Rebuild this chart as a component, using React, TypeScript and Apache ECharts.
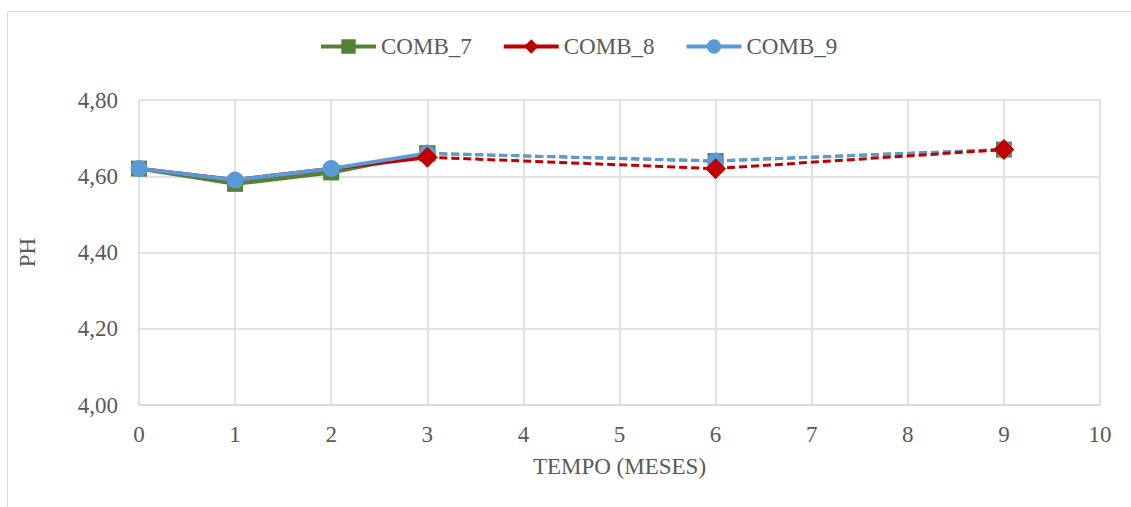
import React, { useEffect, useRef } from "react";
import * as echarts from "echarts";

const months = [0, 1, 2, 3, 6, 9];
const comb7 = [4.62, 4.58, 4.61, 4.66, 4.64, 4.67];
const comb8 = [4.62, 4.59, 4.62, 4.65, 4.62, 4.67];
const comb9 = [4.62, 4.59, 4.62, 4.66, 4.64, 4.67];
const seriesNames = ["COMB_7", "COMB_8", "COMB_9"];
const yTicks = [4.0, 4.2, 4.4, 4.6, 4.8];

const FONT = "'Liberation Serif', 'Times New Roman', serif";
const TXT = "#595959";

export default function App() {
  const ref = useRef<HTMLDivElement>(null);
  useEffect(() => {
    const chart = echarts.init(ref.current!, undefined, { renderer: "svg" });
    const pts = (vals: number[], from: number, to: number) =>
      months.slice(from, to).map((m, i) => [m, vals[from + i]]);
    const cfg = [
      { name: seriesNames[0], vals: comb7, color: "#548235", symbol: "rect", size: 16, bigSize: 16 },
      { name: seriesNames[1], vals: comb8, color: "#c00000", symbol: "diamond", size: 16, bigSize: 21 },
      { name: seriesNames[2], vals: comb9, color: "#5b9bd5", symbol: "circle", size: 17, bigSize: 17 },
    ];
    const solid = cfg.map((c) => ({
      name: c.name,
      type: "line",
      data: pts(c.vals, 0, 4),
      symbol: c.symbol,
      symbolSize: c.size,
      itemStyle: { color: c.color },
      lineStyle: { color: c.color, width: 4 },
    }));
    const dashedOrder = [0, 2, 1];
    const dashed = dashedOrder.map((k) => {
      const c = cfg[k];
      return {
        name: c.name + " (dashed)",
        type: "line",
        data: pts(c.vals, 3, 6),
        symbol: c.symbol,
        symbolSize: c.bigSize,
        itemStyle: { color: c.color },
        lineStyle: { color: c.color, width: 3, type: [8, 4] },
      };
    });
    chart.setOption({
      animation: false,
      backgroundColor: "#ffffff",
      textStyle: { fontFamily: FONT },
      graphic: [
        {
          type: "rect",
          shape: { x: 7.5, y: 11.5, width: 1300, height: 700 },
          style: { fill: "none", stroke: "#d9d9d9", lineWidth: 1 },
          silent: true,
          z: -10,
        },
      ],
      legend: {
        data: seriesNames,
        top: 30,
        left: 314,
        itemWidth: 55,
        itemHeight: 18,
        itemGap: 30,
        lineStyle: { width: 4 },
        textStyle: { fontFamily: FONT, fontSize: 23, color: TXT },
      },
      grid: { left: 139, right: 31, top: 100, bottom: 102 },
      xAxis: {
        type: "value",
        min: 0,
        max: 10,
        interval: 1,
        name: "TEMPO (MESES)",
        nameLocation: "middle",
        nameGap: 50,
        nameTextStyle: { fontFamily: FONT, fontSize: 23, color: TXT },
        axisLine: { lineStyle: { color: "#d9d9d9", width: 1.5 } },
        axisTick: { show: false },
        axisLabel: { fontFamily: FONT, fontSize: 23, color: TXT, margin: 18 },
        splitLine: { show: true, lineStyle: { color: "#d9d9d9", width: 1.5 } },
      },
      yAxis: {
        type: "value",
        min: yTicks[0],
        max: yTicks[yTicks.length - 1],
        interval: 0.2,
        name: "PH",
        nameLocation: "middle",
        nameRotate: 90,
        nameGap: 100,
        nameTextStyle: { fontFamily: FONT, fontSize: 23, color: TXT },
        axisLine: { show: false },
        axisTick: { show: false },
        axisLabel: {
          fontFamily: FONT,
          fontSize: 23,
          color: TXT,
          margin: 21,
          formatter: (v: number) => v.toFixed(2).replace(".", ","),
        },
        splitLine: { show: true, lineStyle: { color: "#d9d9d9", width: 1.5 } },
      },
      series: [...solid, ...dashed],
    });
    return () => chart.dispose();
  }, []);
  return (
    <div
      ref={ref}
      style={{ position: "absolute", left: 0, top: 0, width: 1131, height: 507 }}
    />
  );
}
